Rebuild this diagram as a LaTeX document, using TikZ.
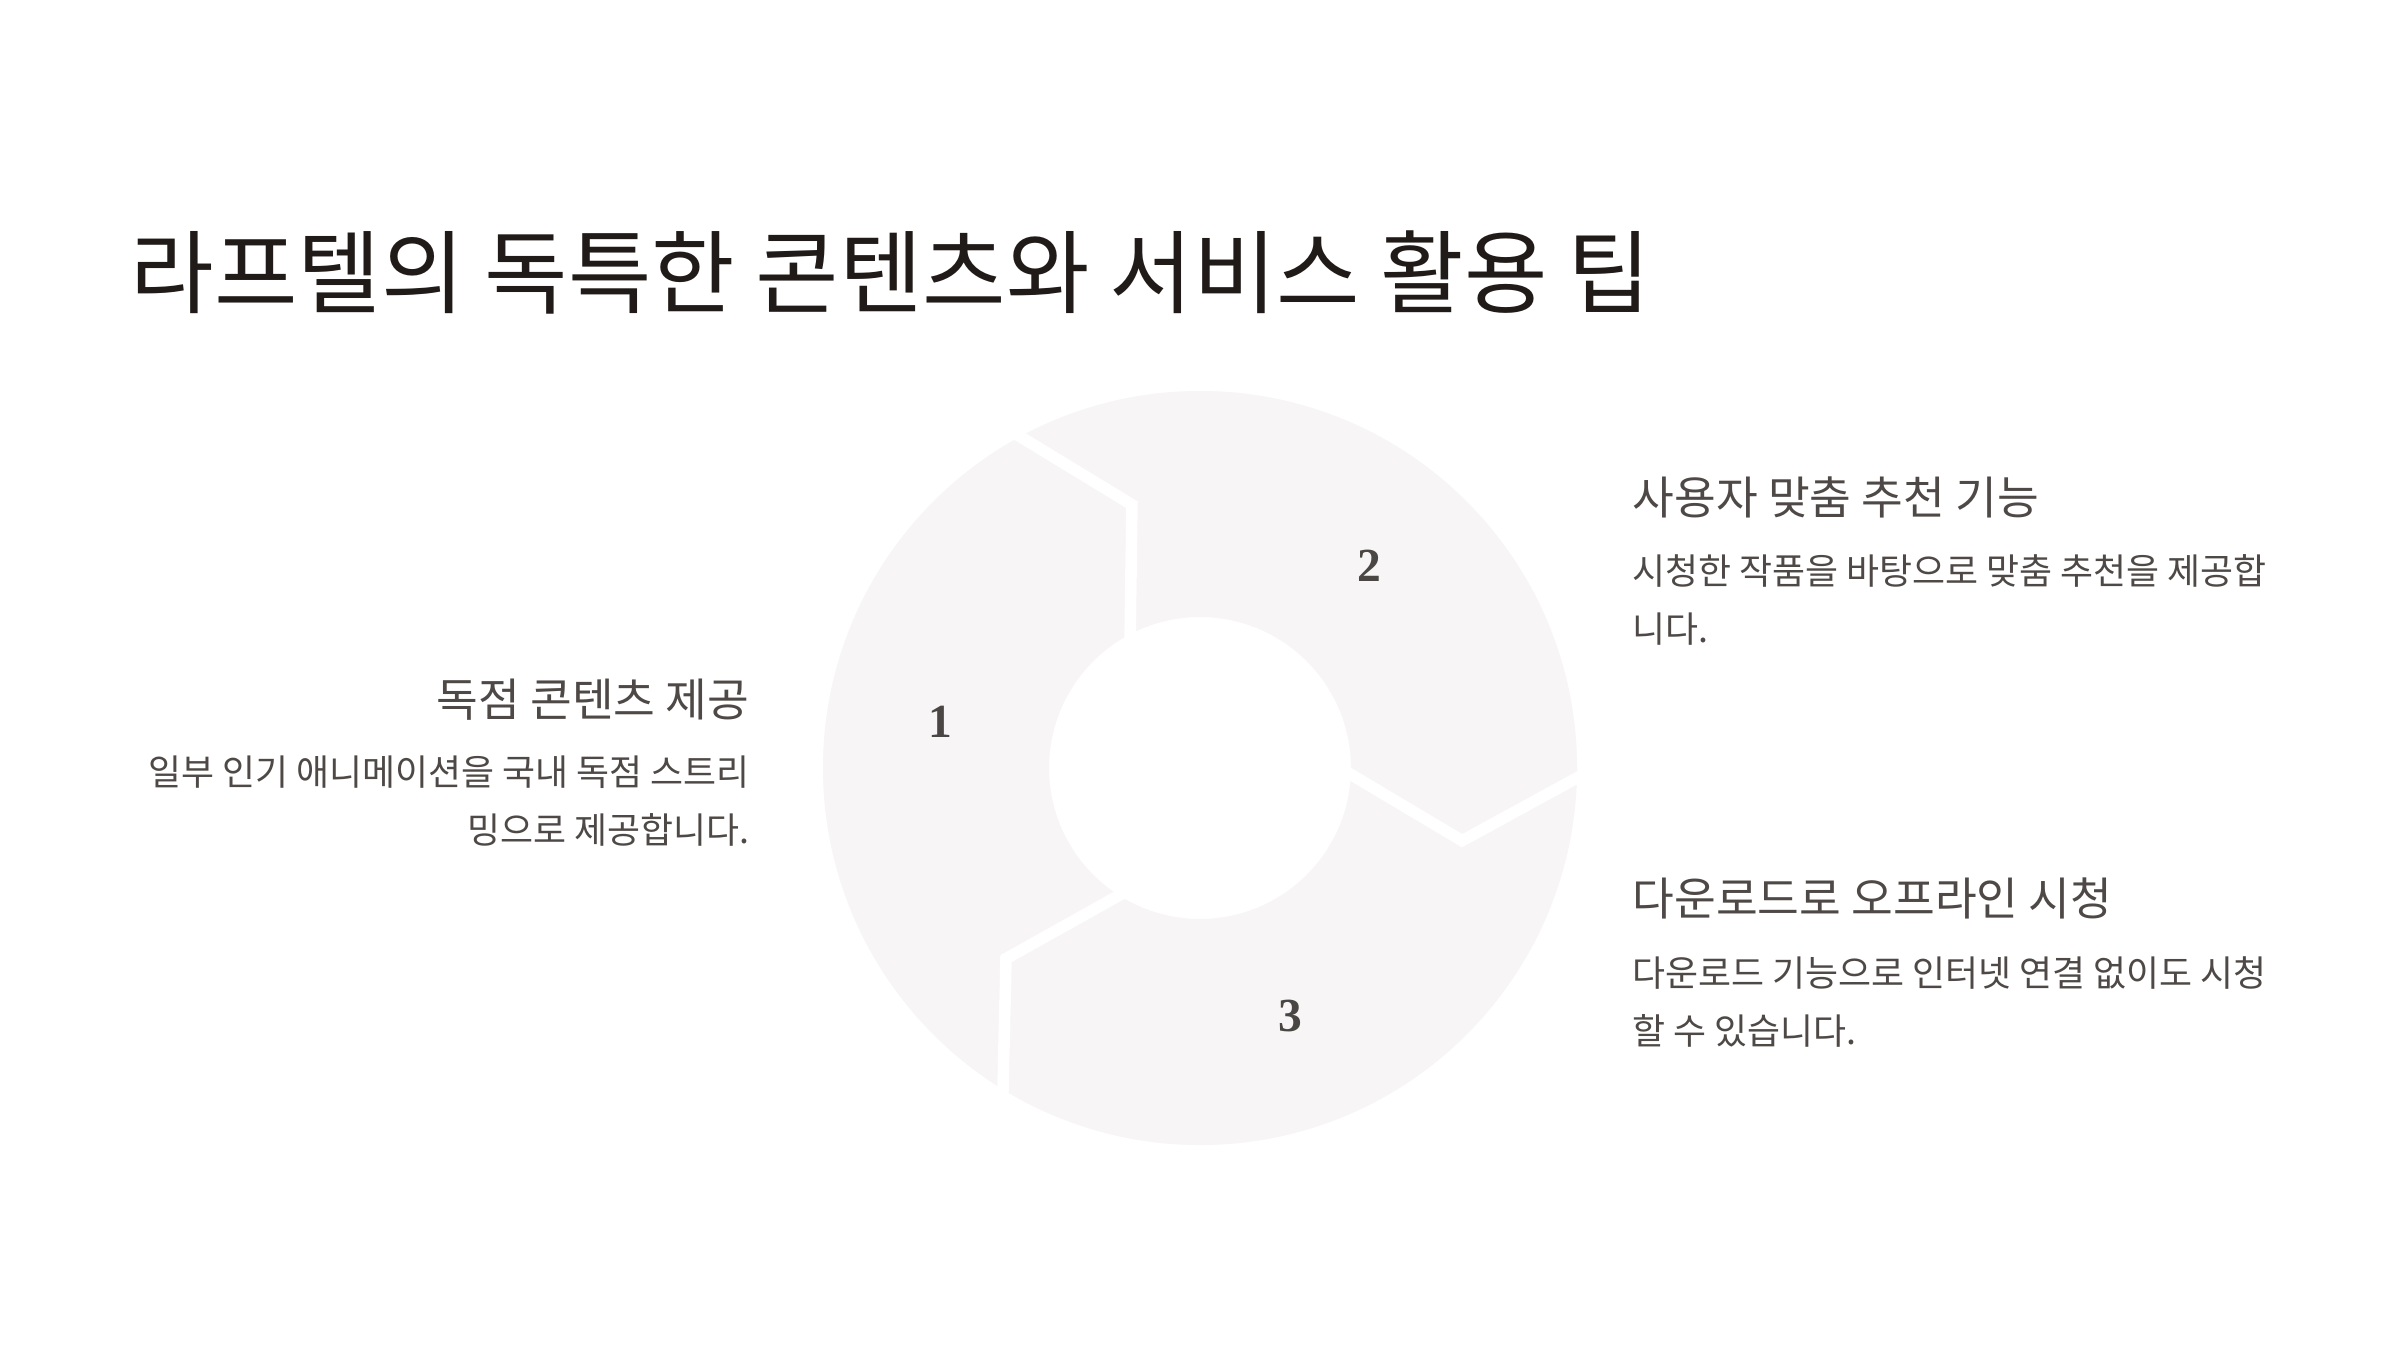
\documentclass[tikz,border=0pt]{standalone}
\usepackage{fontspec}
\setmainfont{Noto Sans CJK KR}
\newfontfamily\numfont{Liberation Serif}
\usetikzlibrary{positioning}
\definecolor{ringgrey}{RGB}{247,245,245}
\definecolor{titleink}{RGB}{32,27,24}
\definecolor{bodyink}{RGB}{78,73,70}
\definecolor{numink}{RGB}{74,70,68}

\begin{document}
\begin{tikzpicture}[x=0.01cm, y=0.01cm,
        heading/.style={font=\fontsize{12.9pt}{15pt}\selectfont, text=bodyink, inner sep=0pt},
        body/.style={font=\fontsize{10.2pt}{16.4pt}\selectfont, text=bodyink, inner sep=0pt},
        num/.style={font=\numfont\bfseries\fontsize{13.5pt}{16pt}\selectfont, text=numink},
        gap/.style={draw=white, line width=3.3pt}
    ]
        \fill[white] (0,0) rectangle (2400,1350);
        \useasboundingbox (0,0) rectangle (2400,1350);

        \node[anchor=west, inner sep=0pt, font=\fontsize{25.8pt}{30pt}\selectfont, text=titleink] (title) at (130,1078) {라프텔의 독특한 콘텐츠와 서비스 활용 팁};

        % ring with three arrow-like segments
        \begin{scope}[shift={(1200,582)}]
            \fill[ringgrey, even odd rule] (0,0) circle (377) (0,0) circle (151);
            \foreach \a in {120,0,-120}
                \draw[gap] (\a:395) -- (\a-15.5:272) -- (\a:140);
            \foreach \a/\n in {170/1,50/2,-70/3}
                \node[num] (n\n) at (\a:264) {\n};
        \end{scope}

        \node[heading, anchor=east] (h1) at (750,650) {독점 콘텐츠 제공};
        \node[body, anchor=east, align=right] (b1) at (750,549) {일부 인기 애니메이션을 국내 독점 스트리\\밍으로 제공합니다.};

        \node[heading, anchor=west] (h2) at (1632,853) {사용자 맞춤 추천 기능};
        \node[body, anchor=west, align=left] (b2) at (1632,750) {시청한 작품을 바탕으로 맞춤 추천을 제공합\\니다.};

        \node[heading, anchor=west] (h3) at (1632,452) {다운로드로 오프라인 시청};
        \node[body, anchor=west, align=left] (b3) at (1632,348) {다운로드 기능으로 인터넷 연결 없이도 시청\\할 수 있습니다.};
    \end{tikzpicture}
\end{document}
